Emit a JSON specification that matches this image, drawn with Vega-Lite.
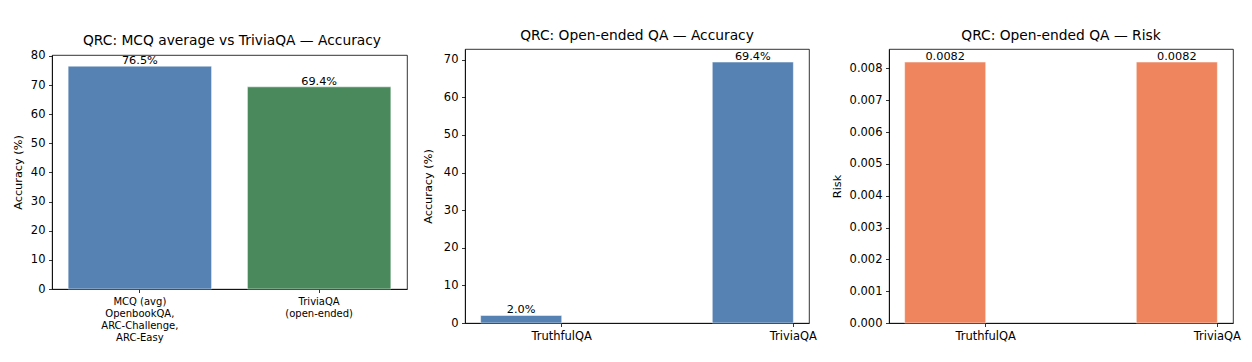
{
  "$schema": "https://vega.github.io/schema/vega-lite/v6.json",
  "padding": {"left": 11, "top": 28, "right": 5, "bottom": 5},
  "background": "white",
  "config": {
    "font": "DejaVu Sans",
    "view": {"stroke": "#000", "strokeWidth": 0.8},
    "concat": {"spacing": 13},
    "title": {"fontSize": 13.8, "fontWeight": "normal", "color": "#000", "anchor": "middle", "frame": "group", "offset": 6},
    "axis": {
      "labelFont": "DejaVu Sans", "labelFontSize": 11.5, "labelColor": "#000",
      "titleFont": "DejaVu Sans", "titleFontSize": 11.3, "titleFontWeight": "normal", "titleColor": "#000",
      "domainColor": "#000", "domainWidth": 0.8, "tickColor": "#000", "tickWidth": 0.8, "tickSize": 3.5,
      "labelPadding": 3.5, "grid": false
    },
    "axisX": {"labelAngle": 0, "title": null},
    "axisY": {"titlePadding": 7}
  },
  "hconcat": [
    {
      "title": {"text": "QRC: MCQ average vs TriviaQA — Accuracy", "offset": 1, "anchor": "start", "frame": "group", "dx": 31},
      "spacing": 0,
      "bounds": "flush",
      "vconcat": [
        {
          "width": 355, "height": 6,
          "view": {"stroke": null},
          "data": {"values": [{}]},
          "mark": {"type": "rule", "opacity": 0},
          "encoding": {}
        },
        {
          "width": 355, "height": 234,
          "data": {"values": [
            {"dataset": "MCQ (avg)\nOpenbookQA,\nARC-Challenge,\nARC-Easy", "accuracy": 76.5},
            {"dataset": "TriviaQA\n(open-ended)", "accuracy": 69.4}
          ]},
          "encoding": {
            "x": {"field": "dataset", "type": "nominal", "sort": null,
                  "scale": {"paddingInner": 0.2, "paddingOuter": 0.09},
                  "axis": {"labelExpr": "split(datum.label, '\\n')", "labelFontSize": 10, "labelLineHeight": 12, "labelBaseline": "top"}},
            "y": {"field": "accuracy", "type": "quantitative",
                  "scale": {"domain": [0, 80.33], "nice": false},
                  "axis": {"title": "Accuracy (%)", "values": [0, 10, 20, 30, 40, 50, 60, 70, 80]}}
          },
          "layer": [
            {"mark": {"type": "bar", "stroke": "white", "strokeWidth": 0.5},
             "encoding": {"color": {"field": "dataset", "type": "nominal", "sort": null, "legend": null,
                                    "scale": {"range": ["#5681B3", "#4A895B"]}}}},
            {"mark": {"type": "text", "baseline": "bottom", "fontSize": 11.3, "color": "#000",
                      "text": {"expr": "format(datum.accuracy, '.1f') + '%'"}}}
          ]
        }
      ]
    },
    {
      "width": 344, "height": 274,
      "title": "QRC: Open-ended QA — Accuracy",
      "data": {"values": [
        {"dataset": "TruthfulQA", "accuracy": 2.0},
        {"dataset": "TriviaQA", "accuracy": 69.4}
      ]},
      "encoding": {
        "x": {"field": "dataset", "type": "nominal", "sort": null,
              "scale": {"paddingInner": 0.65, "paddingOuter": 0.0675},
              "axis": {"bandPosition": 1, "labelOffset": 40.5}},
        "y": {"field": "accuracy", "type": "quantitative",
              "scale": {"domain": [0, 72.87], "nice": false},
              "axis": {"title": "Accuracy (%)", "titlePadding": 10, "values": [0, 10, 20, 30, 40, 50, 60, 70]}}
      },
      "layer": [
        {"mark": {"type": "bar", "color": "#5681B3", "stroke": "white", "strokeWidth": 0.5}},
        {"mark": {"type": "text", "baseline": "bottom", "fontSize": 11.3, "color": "#000",
                  "text": {"expr": "format(datum.accuracy, '.1f') + '%'"}}}
      ]
    },
    {
      "width": 344, "height": 274,
      "title": "QRC: Open-ended QA — Risk",
      "data": {"values": [
        {"dataset": "TruthfulQA", "risk": 0.0082},
        {"dataset": "TriviaQA", "risk": 0.0082}
      ]},
      "encoding": {
        "x": {"field": "dataset", "type": "nominal", "sort": null,
              "scale": {"paddingInner": 0.65, "paddingOuter": 0.0675},
              "axis": {"bandPosition": 1, "labelOffset": 40.5}},
        "y": {"field": "risk", "type": "quantitative",
              "scale": {"domain": [0, 0.00861], "nice": false},
              "axis": {"title": "Risk", "format": ".3f", "values": [0, 0.001, 0.002, 0.003, 0.004, 0.005, 0.006, 0.007, 0.008]}}
      },
      "layer": [
        {"mark": {"type": "bar", "color": "#EE855E", "stroke": "white", "strokeWidth": 0.5}},
        {"mark": {"type": "text", "baseline": "bottom", "fontSize": 11.3, "color": "#000",
                  "text": {"expr": "format(datum.risk, '.4f')"}}}
      ]
    }
  ]
}
